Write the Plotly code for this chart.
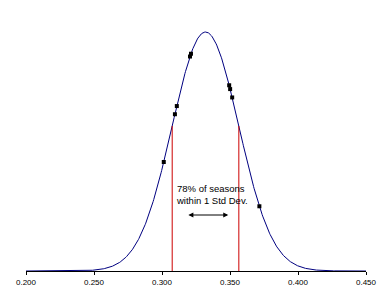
import numpy as np
import plotly.graph_objects as go

# Distribution parameters
mean = 0.332
sd = 0.0245
# Season values plotted on the curve
season_vals = [0.3013, 0.3095, 0.3109, 0.3206, 0.3213, 0.3494, 0.3501, 0.3516, 0.3716]
tick_vals = [0.20, 0.25, 0.30, 0.35, 0.40, 0.45]
tick_text = ["0.200", "0.250", "0.300", "0.350", "0.400", "0.450"]
label_lines = ["78% of seasons", "within 1 Std Dev."]

def pdf(v):
    v = np.asarray(v, dtype=float)
    return np.exp(-0.5 * ((v - mean) / sd) ** 2) / (sd * np.sqrt(2 * np.pi))

xs = np.linspace(0.2, 0.45, 600)
peak = float(pdf(mean))

T, B = 10, 29
plot_h = 300 - T - B
ymax = peak * plot_h / 239.0

def ypx(p):
    return (271 - p) / plot_h * ymax

fig = go.Figure()
fig.add_trace(go.Scatter(x=xs, y=pdf(xs), mode="lines",
                         line=dict(color="#000080", width=1), hoverinfo="skip"))
for v in [mean - sd, mean + sd]:
    fig.add_trace(go.Scatter(x=[v, v], y=[0, float(pdf(v))], mode="lines",
                             line=dict(color="#cc0000", width=1), hoverinfo="skip"))
fig.add_trace(go.Scatter(x=season_vals, y=pdf(season_vals), mode="markers",
                         marker=dict(symbol="square", size=4, color="black"), hoverinfo="skip"))

fig.add_annotation(x=0.3088, y=ypx(194), xref="x", yref="y", xanchor="left", yanchor="middle",
                   text="<br>".join(label_lines), showarrow=False, align="left",
                   font=dict(family="Liberation Sans, Arial", size=9.5, color="black"))
fig.add_annotation(x=0.3487, y=ypx(215), ax=0.3183, ay=ypx(215), xref="x", yref="y",
                   axref="x", ayref="y", showarrow=True, arrowhead=2, startarrowhead=2,
                   arrowside="end+start", arrowsize=1, arrowwidth=1, arrowcolor="black", text="")

fig.update_layout(
    width=389, height=300, margin=dict(l=26, r=23, t=T, b=B),
    paper_bgcolor="white", plot_bgcolor="white", showlegend=False,
    xaxis=dict(range=[0.2, 0.45], tickvals=tick_vals, ticktext=tick_text, showgrid=False,
               zeroline=False, showline=True, linecolor="black", linewidth=1,
               ticks="outside", ticklen=3, tickcolor="black",
               tickfont=dict(family="Liberation Sans, Arial", size=8, color="black")),
    yaxis=dict(range=[0, ymax], visible=False, showgrid=False, zeroline=False),
)
fig.write_html("out.html")
